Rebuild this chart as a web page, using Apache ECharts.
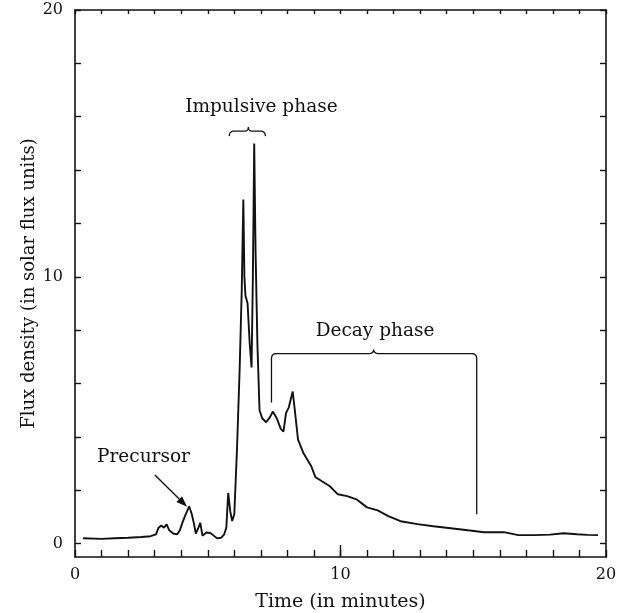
<!DOCTYPE html>
<html><head><meta charset="utf-8">
<script src="https://cdn.jsdelivr.net/npm/echarts@6/dist/echarts.min.js"></script>
<style>html,body{margin:0;padding:0;background:#fff}#c{width:628px;height:613px}</style>
</head><body><div id="c"></div>
<script>
const timeMin = [0.3,1.0,1.5,2.0,2.5,2.85,3.05,3.15,3.25,3.35,3.45,3.55,3.7,3.85,3.95,4.05,4.15,4.3,4.4,4.48,4.55,4.65,4.72,4.8,4.95,5.1,5.2,5.35,5.5,5.62,5.7,5.77,5.85,5.92,6.0,6.1,6.2,6.28,6.34,6.38,6.42,6.5,6.58,6.65,6.7,6.75,6.8,6.87,6.95,7.05,7.2,7.35,7.45,7.6,7.75,7.85,7.95,8.05,8.2,8.28,8.4,8.6,8.9,9.05,9.3,9.6,9.9,10.25,10.6,11.0,11.4,11.8,12.26,12.9,13.5,14.15,14.8,15.4,16.15,16.7,17.3,17.9,18.4,18.9,19.3,19.7];
const flux = [0.2,0.18,0.2,0.22,0.25,0.28,0.35,0.6,0.68,0.6,0.72,0.5,0.38,0.35,0.5,0.8,1.05,1.4,1.1,0.75,0.38,0.6,0.78,0.3,0.42,0.4,0.32,0.2,0.22,0.35,0.6,1.9,1.2,0.85,1.1,3.5,6.5,9.5,12.9,10.0,9.3,9.0,7.5,6.6,10,15.0,11,7.5,5.0,4.7,4.55,4.75,4.95,4.7,4.3,4.2,4.9,5.1,5.7,5.0,3.9,3.4,2.9,2.5,2.34,2.15,1.85,1.78,1.66,1.36,1.25,1.03,0.84,0.73,0.65,0.58,0.5,0.43,0.43,0.32,0.32,0.34,0.39,0.35,0.33,0.32];
const xTicks = [0,1,2,3,4,5,6,7,8,9,10,11,12,13,14,15,16,17,18,19,20];
const xLabels = [0,10,20];
const yTicks = [0,2,4,6,8,10,12,14,16,18,20];
const yLabels = [0,10,20];
// annotation anchors (data units)
const impulsiveText = {x:7.02, y:16.35, text:'Impulsive phase'};
const impulsiveBrace = {x1:5.81, x2:7.17, xc:6.53, y:15.46};
const decayText = {x:11.3, y:7.98, text:'Decay phase'};
const decayBracket = {xl:7.4, ylBottom:5.29, yTop:7.12, xc:11.25, xr:15.13, yrBottom:1.1};
const precursorText = {x:2.58, y:3.23, text:'Precursor'};
const precursorArrow = {from:[3.01,2.57], to:[4.22,1.38]};

const FONT = 'DejaVu Serif';
const chart = echarts.init(document.getElementById('c'));
const series = timeMin.map((t,i)=>[t, flux[i]]);
const axisLineStyle = {color:'#111',width:1.6};
const tickStyle = {color:'#111',width:1.4};
chart.setOption({
  animation:false,
  grid:{left:75,right:22,top:10,bottom:56,containLabel:false,outerBoundsMode:'none'},
  xAxis:[
    {type:'value',position:'bottom',min:0,max:20,
     name:'Time (in minutes)',nameLocation:'middle',nameGap:36,nameMoveOverlap:false,
     nameTextStyle:{fontFamily:FONT,fontSize:19,color:'#111'},
     axisLine:{show:true,onZero:false,lineStyle:axisLineStyle},
     axisTick:{show:true,inside:true,length:7,customValues:xTicks,lineStyle:tickStyle},
     axisLabel:{show:true,customValues:xLabels,margin:10,fontFamily:FONT,fontSize:16,color:'#111'},
     splitLine:{show:false}},
    {type:'value',position:'top',min:0,max:20,
     axisLine:{show:true,onZero:false,lineStyle:axisLineStyle},
     axisTick:{show:true,inside:true,length:4,customValues:xTicks,lineStyle:tickStyle},
     axisLabel:{show:false},splitLine:{show:false}},
    {type:'value',position:'bottom',min:0,max:20,
     axisLine:{show:false,onZero:false},
     axisTick:{show:true,inside:true,length:12,customValues:[10],lineStyle:tickStyle},
     axisLabel:{show:false},splitLine:{show:false}}
  ],
  yAxis:[
    {type:'value',position:'left',min:-0.5,max:20,
     name:'Flux density (in solar flux units)',nameLocation:'middle',nameGap:37,nameMoveOverlap:false,
     nameTextStyle:{fontFamily:FONT,fontSize:18,color:'#111'},
     axisLine:{show:true,onZero:false,lineStyle:axisLineStyle},
     axisTick:{show:true,inside:true,length:6,customValues:yTicks,lineStyle:tickStyle},
     axisLabel:{show:true,customValues:yLabels,margin:12,fontFamily:FONT,fontSize:16,color:'#111'},
     splitLine:{show:false}},
    {type:'value',position:'right',min:-0.5,max:20,
     axisLine:{show:true,onZero:false,lineStyle:axisLineStyle},
     axisTick:{show:true,inside:true,length:6,customValues:yTicks,lineStyle:tickStyle},
     axisLabel:{show:false},splitLine:{show:false}}
  ],
  series:[{
    type:'line',xAxisIndex:0,yAxisIndex:0,data:series,showSymbol:false,smooth:false,
    lineStyle:{color:'#111',width:1.9}
  }]
});
function px(x,y){return chart.convertToPixel({xAxisIndex:0,yAxisIndex:0},[x,y]);}
function quad(pts,p0,c,p1){for(let i=1;i<=8;i++){const t=i/8,u=1-t;pts.push([u*u*p0[0]+2*u*t*c[0]+t*t*p1[0],u*u*p0[1]+2*u*t*c[1]+t*t*p1[1]]);}}
const g=[];
function addText(o){const p=px(o.x,o.y);g.push({type:'text',x:p[0],y:p[1],style:{text:o.text,fontFamily:FONT,fontSize:18.5,fill:'#111',align:'center',verticalAlign:'middle'}});}
addText(impulsiveText);addText(decayText);addText(precursorText);
(function(){
  const a=px(impulsiveBrace.x1,impulsiveBrace.y), b=px(impulsiveBrace.x2,impulsiveBrace.y), c=px(impulsiveBrace.xc,impulsiveBrace.y);
  const y=a[1], x1=a[0], x2=b[0], xc=c[0];
  const pts=[[x1,y+5]];
  quad(pts,[x1,y+5],[x1,y],[x1+5,y]);
  pts.push([xc-4,y]);
  quad(pts,[xc-4,y],[xc,y],[xc,y-4]);
  quad(pts,[xc,y-4],[xc,y],[xc+4,y]);
  pts.push([x2-5,y]);
  quad(pts,[x2-5,y],[x2,y],[x2,y+5]);
  g.push({type:'polyline',shape:{points:pts},style:{stroke:'#111',lineWidth:1.3,fill:null}});
})();
(function(){
  const B=decayBracket;
  const l=px(B.xl,B.ylBottom), t=px(B.xl,B.yTop), c=px(B.xc,B.yTop), r=px(B.xr,B.yTop), rb=px(B.xr,B.yrBottom);
  const xl=l[0], yb=l[1], yh=t[1], xc=c[0], xr=r[0], yrb=rb[1], rr=5;
  const pts=[[xl,yb],[xl,yh+rr]];
  quad(pts,[xl,yh+rr],[xl,yh],[xl+rr,yh]);
  pts.push([xc-6,yh]);
  quad(pts,[xc-6,yh],[xc,yh],[xc,yh-4]);
  quad(pts,[xc,yh-4],[xc,yh],[xc+6,yh]);
  pts.push([xr-rr,yh]);
  quad(pts,[xr-rr,yh],[xr,yh],[xr,yh+rr]);
  pts.push([xr,yrb]);
  g.push({type:'polyline',shape:{points:pts},style:{stroke:'#111',lineWidth:1.3,fill:null}});
})();
(function(){
  const s=px(precursorArrow.from[0],precursorArrow.from[1]), e=px(precursorArrow.to[0],precursorArrow.to[1]);
  const dx=e[0]-s[0], dy=e[1]-s[1], L=Math.hypot(dx,dy), ux=dx/L, uy=dy/L, hl=11, hw=4;
  const bx=e[0]-ux*hl, by=e[1]-uy*hl;
  g.push({type:'line',shape:{x1:s[0],y1:s[1],x2:bx,y2:by},style:{stroke:'#111',lineWidth:1.4}});
  g.push({type:'polygon',shape:{points:[[e[0],e[1]],[bx-uy*hw,by+ux*hw],[bx+uy*hw,by-ux*hw]]},style:{fill:'#111',stroke:null}});
})();
chart.setOption({graphic:g});
</script></body></html>
